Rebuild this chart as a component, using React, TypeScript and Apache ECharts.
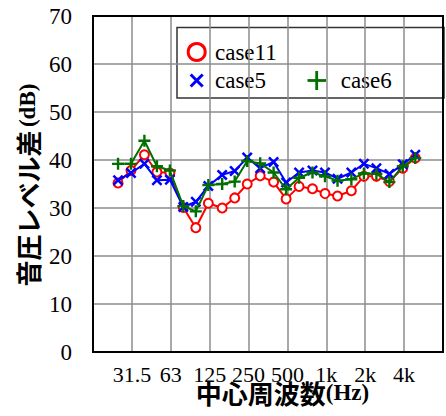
import React, { useEffect, useRef } from "react";
import * as echarts from "echarts";

// 1/3-octave band centre frequencies (Hz)
const freqs = [25, 31.5, 40, 50, 63, 80, 100, 125, 160, 200, 250, 315, 400, 500, 630, 800, 1000, 1250, 1600, 2000, 2500, 3150, 4000, 5000];
const seriesNames = ["case11", "case5", "case6"];
const case11 = [35.2, 37.8, 41.1, 37.5, 37.3, 30.1, 25.9, 31.0, 30.0, 32.1, 35.0, 36.7, 35.4, 31.9, 34.5, 34.0, 33.0, 32.5, 33.6, 36.6, 36.6, 35.5, 38.3, 40.4];
const case5 = [35.8, 37.3, 39.2, 35.8, 35.9, 30.2, 31.3, 34.6, 36.9, 37.7, 40.5, 38.3, 39.6, 35.3, 37.4, 37.8, 37.4, 36.1, 37.4, 39.2, 38.3, 37.1, 39.1, 41.1];
const case6 = [39.2, 39.2, 44.0, 38.7, 37.8, 30.4, 29.3, 34.8, 35.0, 35.5, 39.8, 39.3, 37.4, 33.9, 36.3, 37.4, 36.6, 35.7, 36.0, 37.2, 37.1, 35.4, 38.7, 40.4];
const xTickLabels = ["31.5", "63", "125", "250", "500", "1k", "2k", "4k"];
const yTicks = [0, 10, 20, 30, 40, 50, 60, 70];

const RED = "#ff0000";
const BLUE = "#0000ff";
const GREEN = "#007000";
const SERIF = "Liberation Serif";
const CJK = "Noto Sans CJK JP";

// position on the axis: thirds of an octave above 16 Hz
const toX = (f: number) => 3 * Math.log2(f / 16);

const X_PATH = "path://M0,1.6L1.6,0L5,3.4L8.4,0L10,1.6L6.6,5L10,8.4L8.4,10L5,6.6L1.6,10L0,8.4L3.4,5Z";
const PLUS_PATH = "path://M4,0H6V4H10V6H6V10H4V6H0V4H4Z";

export default function App() {
  const ref = useRef<HTMLDivElement>(null);
  useEffect(() => {
    if (!ref.current) return;
    const chart = echarts.init(ref.current, null, { renderer: "svg" });
    const mk = (vals: number[]) => vals.map((v, i) => [toX(freqs[i]), v]);
    const titleRich = {
      c: { fontSize: 26, fontWeight: "bold", fontFamily: CJK, fill: "#000" },
      l: { fontSize: 23, fontWeight: "bold", fontFamily: SERIF, fill: "#000" },
    };
    const legendText = (text: string, x: number, y: number) => ({
      type: "text",
      x,
      y,
      style: { text, fontSize: 23, fontFamily: SERIF, fill: "#000", align: "left", verticalAlign: "middle" },
    });
    chart.setOption({
      animation: false,
      backgroundColor: "#fff",
      grid: { left: 93, top: 16, right: -7, bottom: 64, show: true, borderColor: "#000", borderWidth: 2, z: 5 },
      xAxis: {
        type: "value",
        min: 0,
        max: 27,
        interval: 3,
        axisLine: { show: true, lineStyle: { color: "#000", width: 2 } },
        axisTick: { show: false },
        splitLine: { show: true, lineStyle: { color: "#8c8c8c", width: 1.5 } },
        axisLabel: {
          margin: 11,
          fontSize: 22,
          fontFamily: SERIF,
          color: "#000",
          formatter: (v: number) => xTickLabels[Math.round(v / 3) - 1] ?? "",
        },
      },
      yAxis: {
        type: "value",
        min: 0,
        max: 70,
        interval: 10,
        axisLine: { show: true, lineStyle: { color: "#000", width: 2 } },
        axisTick: { show: false },
        splitLine: { show: true, lineStyle: { color: "#8c8c8c", width: 1.5 } },
        axisLabel: {
          margin: 21,
          fontSize: 23,
          fontFamily: SERIF,
          color: "#000",
          formatter: (v: number) => (yTicks.includes(v) ? String(v) : ""),
        },
      },
      series: [
        {
          name: seriesNames[0],
          type: "line",
          data: mk(case11),
          symbol: "emptyCircle",
          symbolSize: 9,
          lineStyle: { color: RED, width: 2 },
          itemStyle: { color: RED, borderColor: RED, borderWidth: 1.8 },
          z: 2,
        },
        {
          name: seriesNames[1],
          type: "line",
          data: mk(case5),
          symbol: X_PATH,
          symbolSize: 11,
          lineStyle: { color: BLUE, width: 2 },
          itemStyle: { color: BLUE },
          z: 3,
        },
        {
          name: seriesNames[2],
          type: "line",
          data: mk(case6),
          symbol: PLUS_PATH,
          symbolSize: 12,
          lineStyle: { color: GREEN, width: 2 },
          itemStyle: { color: GREEN },
          z: 4,
        },
      ],
      graphic: [
        {
          type: "group",
          z: 100,
          children: [
            { type: "rect", shape: { x: 177, y: 27.5, width: 267, height: 70.5 }, style: { fill: "#fff", stroke: "#333", lineWidth: 1.5 } },
            { type: "circle", shape: { cx: 196.7, cy: 52, r: 8.5 }, style: { fill: "none", stroke: RED, lineWidth: 3 } },
            { type: "line", shape: { x1: 190.7, y1: 74.5, x2: 202.7, y2: 86.5 }, style: { stroke: BLUE, lineWidth: 3 } },
            { type: "line", shape: { x1: 190.7, y1: 86.5, x2: 202.7, y2: 74.5 }, style: { stroke: BLUE, lineWidth: 3 } },
            { type: "line", shape: { x1: 307.5, y1: 80.5, x2: 326, y2: 80.5 }, style: { stroke: GREEN, lineWidth: 2.8 } },
            { type: "line", shape: { x1: 316.7, y1: 71, x2: 316.7, y2: 90 }, style: { stroke: GREEN, lineWidth: 2.8 } },
            legendText(seriesNames[0], 215, 52),
            legendText(seriesNames[1], 215, 80.5),
            legendText(seriesNames[2], 340.7, 80.5),
          ],
        },
        {
          type: "text",
          z: 100,
          x: 282.5,
          y: 392,
          style: { text: "{c|中心周波数}{l|(Hz)}", rich: titleRich, align: "center", verticalAlign: "middle" },
        },
        {
          type: "text",
          z: 100,
          x: 27.5,
          y: 185,
          rotation: Math.PI / 2,
          style: { text: "{c|音圧レベル差} {l|(dB)}", rich: titleRich, align: "center", verticalAlign: "middle" },
        },
      ],
    });
    return () => chart.dispose();
  }, []);
  return <div ref={ref} style={{ position: "fixed", left: 0, top: 0, width: 446, height: 416 }} />;
}
